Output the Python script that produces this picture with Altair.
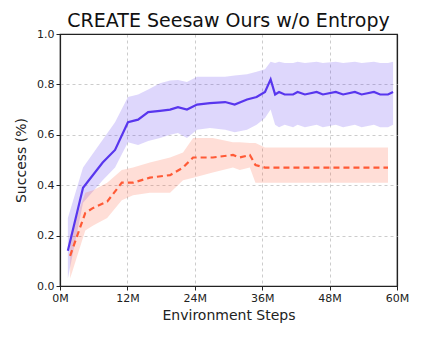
import altair as alt
import pandas as pd

# Ours w/o Entropy (purple, solid)
steps_p = [1.4, 4.1, 7.6, 9.8, 12.1, 13.9, 15.7, 17.8, 19.6, 21.0, 22.6, 24.4, 26.7, 29.4, 31.1,
           33.3, 35.0, 36.5, 37.5, 38.3, 39.0, 40.0, 41.5, 42.3, 43.6, 45.7, 46.8, 49.1, 50.4,
           52.5, 53.7, 55.9, 57.0, 58.4, 59.3]
mean_p = [0.14, 0.39, 0.49, 0.54, 0.65, 0.66, 0.69, 0.695, 0.70, 0.71, 0.70, 0.72, 0.726, 0.73, 0.72,
          0.74, 0.75, 0.77, 0.82, 0.76, 0.77, 0.76, 0.76, 0.77, 0.76, 0.77, 0.76, 0.77, 0.76,
          0.77, 0.76, 0.77, 0.76, 0.76, 0.77]
upper_p = [0.27, 0.47, 0.58, 0.65, 0.75, 0.76, 0.78, 0.805, 0.815, 0.817, 0.81, 0.83, 0.83, 0.83, 0.835,
           0.84, 0.85, 0.86, 0.89, 0.885, 0.89, 0.885, 0.885, 0.89, 0.885, 0.89, 0.885, 0.89, 0.885,
           0.89, 0.885, 0.89, 0.885, 0.885, 0.89]
lower_p = [0.03, 0.33, 0.42, 0.47, 0.57, 0.56, 0.575, 0.587, 0.60, 0.607, 0.587, 0.62, 0.627, 0.62, 0.61,
           0.62, 0.64, 0.667, 0.70, 0.64, 0.63, 0.64, 0.63, 0.64, 0.63, 0.64, 0.63, 0.64, 0.63,
           0.64, 0.63, 0.64, 0.63, 0.63, 0.64]

# Baseline (orange, dashed)
steps_o = [1.8, 4.5, 5.9, 8.4, 11.0, 13.0, 16.0, 19.6, 21.9, 23.7, 27.2, 30.8, 32.0, 33.8, 34.8,
           36.5, 40.0, 44.0, 48.0, 52.0, 56.0, 58.4]
mean_o = [0.12, 0.29, 0.31, 0.335, 0.41, 0.41, 0.43, 0.44, 0.47, 0.51, 0.51, 0.52, 0.51, 0.52, 0.48,
          0.47, 0.47, 0.47, 0.47, 0.47, 0.47, 0.47]
upper_o = [0.20, 0.37, 0.38, 0.41, 0.46, 0.47, 0.49, 0.51, 0.53, 0.587, 0.587, 0.57, 0.57, 0.567, 0.567,
           0.55, 0.55, 0.55, 0.55, 0.55, 0.55, 0.55]
lower_o = [0.03, 0.22, 0.24, 0.27, 0.34, 0.36, 0.37, 0.37, 0.42, 0.43, 0.45, 0.47, 0.46, 0.47, 0.41,
           0.41, 0.41, 0.41, 0.41, 0.41, 0.41, 0.41]

x_ticks = [0, 12, 24, 36, 48, 60]
y_ticks = [0.0, 0.2, 0.4, 0.6, 0.8, 1.0]

df = pd.concat([
    pd.DataFrame({"step": steps_p, "mean": mean_p, "lo": lower_p, "hi": upper_p, "series": "ours"}),
    pd.DataFrame({"step": steps_o, "mean": mean_o, "lo": lower_o, "hi": upper_o, "series": "base"}),
])

color = alt.Color("series:N", scale=alt.Scale(domain=["ours", "base"], range=["#5836ee", "#ff5a36"]), legend=None)

edge_x = "datum.value == 0 || datum.value == 60"
edge_y = "datum.value == 0 || datum.value == 1"

xenc = alt.X("step:Q", scale=alt.Scale(domain=[0, 60], nice=False),
             axis=alt.Axis(values=x_ticks, labelExpr="datum.value + 'M'", title="Environment Steps",
                           labelFlush=False,
                           gridColor={"condition": {"test": edge_x, "value": "#222222"}, "value": "#cccccc"},
                           gridDash={"condition": {"test": edge_x, "value": []}, "value": [3, 3]},
                           gridWidth={"condition": {"test": edge_x, "value": 1.2}, "value": 1}))
yenc = alt.Y("mean:Q", scale=alt.Scale(domain=[0, 1], nice=False),
             axis=alt.Axis(values=y_ticks, format=".1f", title="Success (%)", labelFlush=False,
                           gridColor={"condition": {"test": edge_y, "value": "#222222"}, "value": "#cccccc"},
                           gridDash={"condition": {"test": edge_y, "value": []}, "value": [3, 3]},
                           gridWidth={"condition": {"test": edge_y, "value": 1.2}, "value": 1}))

base = alt.Chart(df)
bands = base.mark_area(opacity=0.2).encode(
    x=xenc, y=alt.Y("lo:Q", scale=alt.Scale(domain=[0, 1], nice=False)), y2="hi:Q", color=color, detail="series:N")
line_p = base.transform_filter("datum.series == 'ours'").mark_line(strokeWidth=2.2).encode(x=xenc, y=yenc, color=color)
line_o = base.transform_filter("datum.series == 'base'").mark_line(strokeWidth=2.2, strokeDash=[6, 4]).encode(x=xenc, y=yenc, color=color)

chart = (bands + line_p + line_o).properties(
    width=337, height=252,
    title=alt.Title("CREATE Seesaw Ours w/o Entropy", fontSize=19, font="DejaVu Sans", fontWeight="normal",
                    offset=-3, color="#111111"),
    autosize=alt.AutoSizeParams(type="none"),
    padding={"left": 52, "top": 26, "right": 14, "bottom": 44},
).configure_view(stroke="#222222", strokeWidth=1.2).configure_axis(
    labelFont="DejaVu Sans", titleFont="DejaVu Sans", labelFontSize=11, titleFontSize=14,
    titleFontWeight="normal", labelColor="#222222", titleColor="#222222",
    domainColor="#222222", tickColor="#222222",
    tickSize=4, labelPadding=2,
).configure_axisX(titlePadding=5).configure_axisY(titlePadding=8)

chart.save("out.html", embed_options={"renderer": "svg", "actions": False})
